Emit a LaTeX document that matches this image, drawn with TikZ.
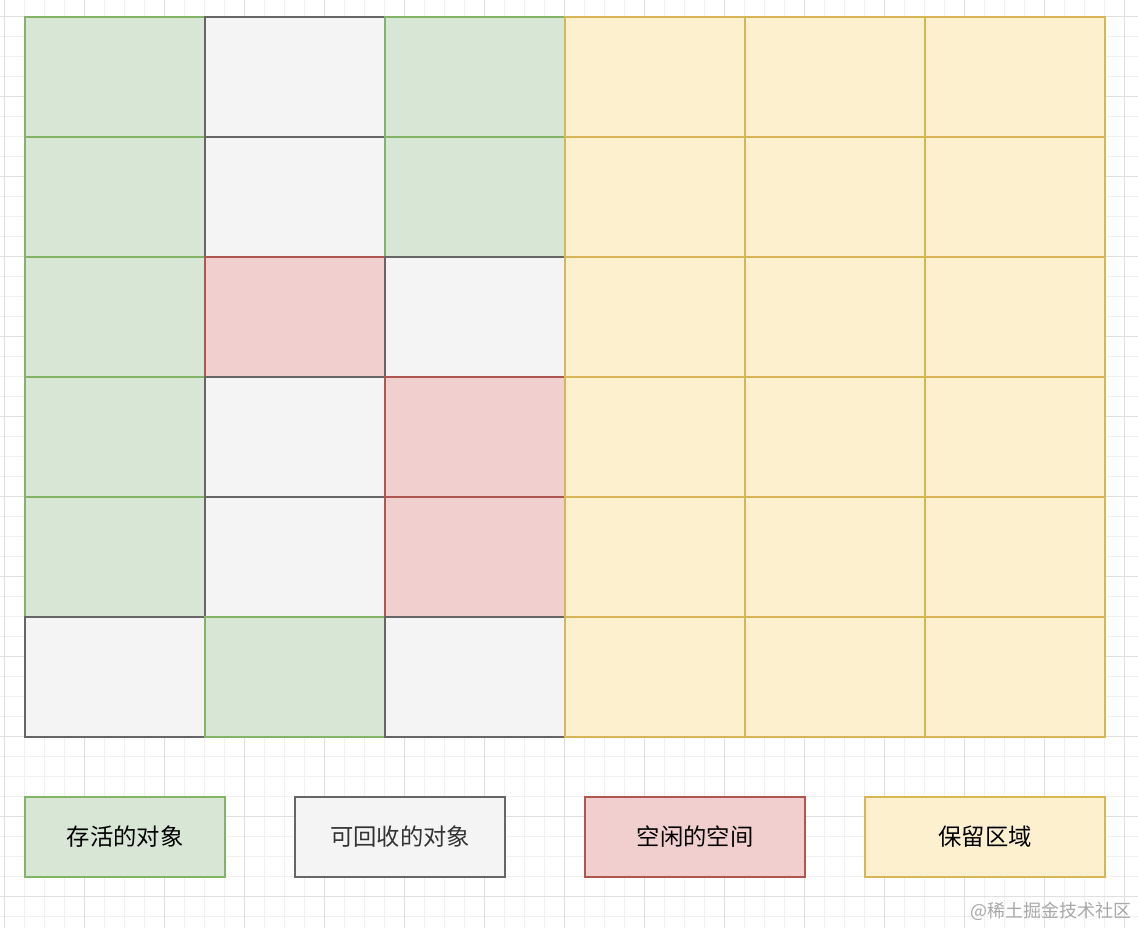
\documentclass[tikz,border=0pt]{standalone}
\usepackage{fontspec}
\newfontfamily\cjk{Noto Sans CJK SC}
\definecolor{gfill}{HTML}{D8E6D6}\definecolor{gline}{HTML}{82B366}
\definecolor{sfill}{HTML}{F4F4F4}\definecolor{sline}{HTML}{666666}
\definecolor{rfill}{HTML}{F2CFCF}\definecolor{rline}{HTML}{B05650}
\definecolor{yfill}{HTML}{FDF0CE}\definecolor{yline}{HTML}{D6B656}
\definecolor{minorgrid}{HTML}{F1F1F1}\definecolor{majorgrid}{HTML}{E0E0E0}
\definecolor{wm}{HTML}{A8A8A8}
\tikzset{
  cellbox/.style={anchor=north west,inner sep=0pt,outer sep=0pt,minimum width=135pt,minimum height=90pt,line width=1.5pt},
  cg/.style={cellbox,fill=gfill,draw=gline},
  cs/.style={cellbox,fill=sfill,draw=sline},
  cr/.style={cellbox,fill=rfill,draw=rline},
  cy/.style={cellbox,fill=yfill,draw=yline},
  legend/.style={anchor=north west,inner sep=0pt,outer sep=0pt,minimum height=60pt,line width=1.5pt,font=\cjk\fontsize{17.5}{20}\selectfont},
}
\begin{document}
\begin{tikzpicture}[x=0.75pt,y=-0.75pt]
\useasboundingbox (0,0) rectangle (1138,928);
\fill[white] (0,0) rectangle (1138,928);
\foreach \x in {4,24,...,1138} \draw[minorgrid,line width=0.75pt] (\x,0) -- (\x,928);
\foreach \y in {16,36,...,928} \draw[minorgrid,line width=0.75pt] (0,\y) -- (1138,\y);
\foreach \x in {4,84,...,1138} \draw[majorgrid,line width=0.75pt] (\x,0) -- (\x,928);
\foreach \y in {16,96,...,928} \draw[majorgrid,line width=0.75pt] (0,\y) -- (1138,\y);
% cells, row by row
\foreach \r/\a/\b/\c in {1/cg/cs/cg,2/cg/cs/cg,3/cg/cr/cs,4/cg/cs/cr,5/cg/cs/cr,6/cs/cg/cs}{
  \pgfmathsetmacro{\yy}{17+120*(\r-1)}
  \node[\a] (c\r-1) at (25,\yy) {};
  \node[\b] (c\r-2) at (205,\yy) {};
  \node[\c] (c\r-3) at (385,\yy) {};
  \node[cy] (c\r-4) at (565,\yy) {};
  \node[cy] (c\r-5) at (745,\yy) {};
  \node[cy] (c\r-6) at (925,\yy) {};
}
% legend
\node[legend,fill=gfill,draw=gline,minimum width=150pt,text=black] (lg) at (25,797) {存活的对象};
\node[legend,fill=sfill,draw=sline,minimum width=157.5pt,text=black!80] (ls) at (295,797) {可回收的对象};
\node[legend,fill=rfill,draw=rline,minimum width=165pt,text=black] (lr) at (585,797) {空闲的空间};
\node[legend,fill=yfill,draw=yline,minimum width=180pt,text=black] (ly) at (865,797) {保留区域};
\node[anchor=east,inner sep=0pt,text=wm,font=\cjk\fontsize{13.5}{15}\selectfont] (wmk) at (1132,911) {@稀土掘金技术社区};
\end{tikzpicture}
\end{document}
